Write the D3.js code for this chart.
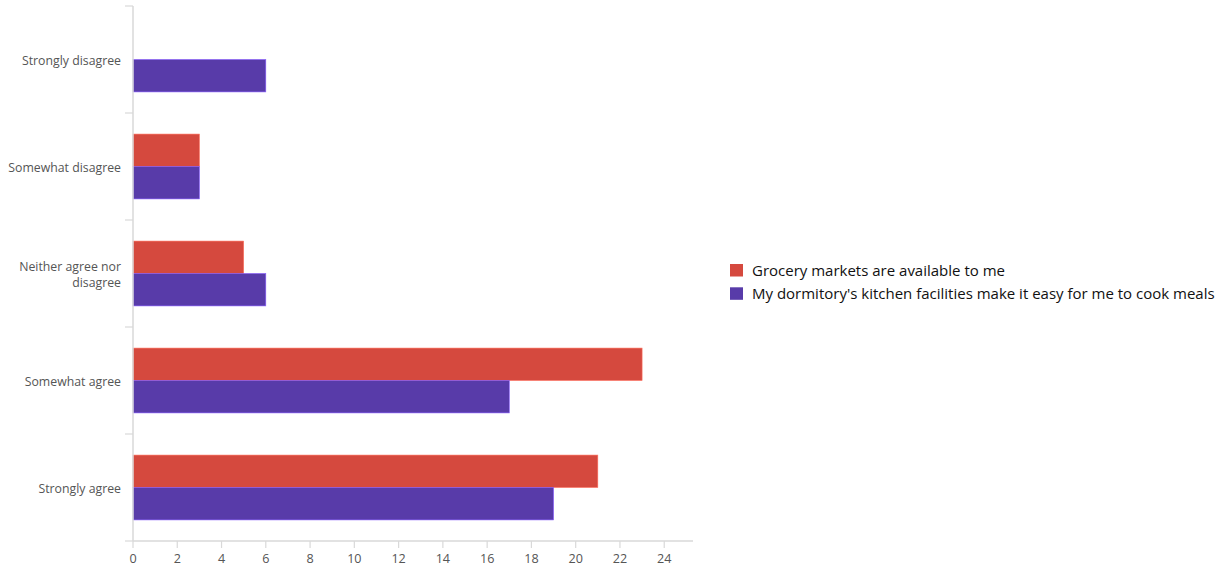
<!DOCTYPE html>
<html>
<head>
<meta charset="utf-8">
<script src="https://cdn.jsdelivr.net/npm/d3@7"></script>
<style>
  html, body { margin: 0; padding: 0; background: #fff; }
  svg { display: block; }
  text { font-family: "Open Sans", "Noto Sans", sans-serif; }
</style>
</head>
<body>
<svg id="chart" width="1227" height="569"></svg>
<script>
// Response categories, top to bottom
const categories = ["Strongly disagree", "Somewhat disagree", "Neither agree nor disagree", "Somewhat agree", "Strongly agree"];
const categoryLines = [["Strongly disagree"], ["Somewhat disagree"], ["Neither agree nor", "disagree"], ["Somewhat agree"], ["Strongly agree"]];

// Series
const seriesNames = ["Grocery markets are available to me", "My dormitory's kitchen facilities make it easy for me to cook meals"];
const groceryValues = [0, 3, 5, 23, 21];
const kitchenValues = [6, 3, 6, 17, 19];
const seriesColors = ["#d5493e", "#583ba9"];

const xTicks = [0, 2, 4, 6, 8, 10, 12, 14, 16, 18, 20, 22, 24];

const svg = d3.select("#chart");
const plot = { left: 133, right: 693, top: 6, bottom: 541 };

const x = d3.scaleLinear().domain([0, 25.3]).range([plot.left, plot.right]);
const y = d3.scaleBand().domain(categories).range([plot.top, plot.bottom]).paddingInner(0).paddingOuter(0);
const inner = d3.scaleBand().domain([0, 1]).range([0, y.bandwidth()]).paddingInner(0).paddingOuter(0.65);

const series = [groceryValues, kitchenValues];

// Bars
series.forEach((vals, si) => {
  svg.append("g")
    .selectAll("rect")
    .data(categories.map((c, i) => ({ c, v: vals[i] })).filter(d => d.v > 0))
    .join("rect")
    .attr("x", x(0))
    .attr("y", d => y(d.c) + inner(si))
    .attr("width", d => x(d.v) - x(0))
    .attr("height", inner.bandwidth())
    .attr("fill", seriesColors[si])
    .attr("stroke", d3.color(seriesColors[si]).brighter(1.2))
    .attr("stroke-width", 0.6);
});

// Y axis: line and separators between categories
const yAxis = svg.append("g");
yAxis.append("line")
  .attr("x1", plot.left).attr("x2", plot.left)
  .attr("y1", plot.top).attr("y2", plot.bottom)
  .attr("stroke", "#d9d9d9").attr("stroke-width", 1.5);
const boundaries = categories.map(c => y(c)).concat([plot.bottom]);
yAxis.selectAll("line.sep")
  .data(boundaries)
  .join("line")
  .attr("class", "sep")
  .attr("x1", plot.left - 8).attr("x2", plot.left)
  .attr("y1", d => d).attr("y2", d => d)
  .attr("stroke", "#d9d9d9").attr("stroke-width", 1.2);

// Category labels
categories.forEach((c, i) => {
  const lines = categoryLines[i];
  const cy = y(c) + y.bandwidth() / 2 + 1;
  const t = yAxis.append("text")
    .attr("text-anchor", "end")
    .attr("font-size", 12.3)
    .attr("fill", "#555");
  lines.forEach((ln, j) => {
    t.append("tspan")
      .attr("x", 121)
      .attr("y", cy + (j - (lines.length - 1) / 2) * 16)
      .attr("dy", "0.35em")
      .text(ln);
  });
});

// X axis
const xAxis = svg.append("g").attr("transform", `translate(0,${plot.bottom})`);
xAxis.append("line")
  .attr("x1", plot.left).attr("x2", plot.right)
  .attr("stroke", "#d9d9d9").attr("stroke-width", 1.5);
xAxis.selectAll("line.tick")
  .data(xTicks)
  .join("line")
  .attr("class", "tick")
  .attr("x1", d => x(d)).attr("x2", d => x(d))
  .attr("y1", 0).attr("y2", 7)
  .attr("stroke", "#d9d9d9").attr("stroke-width", 1.2);
xAxis.selectAll("text")
  .data(xTicks)
  .join("text")
  .attr("x", d => x(d))
  .attr("y", 22)
  .attr("text-anchor", "middle")
  .attr("font-size", 12.6)
  .attr("fill", "#555")
  .text(d => d);

// Legend
const legend = svg.append("g").attr("transform", "translate(730,264)");
seriesNames.forEach((name, i) => {
  const row = legend.append("g").attr("transform", `translate(0,${i * 23.3})`);
  row.append("rect").attr("width", 13).attr("height", 12.5).attr("fill", seriesColors[i]);
  row.append("text")
    .attr("x", 22).attr("y", 6.5)
    .attr("dy", "0.35em")
    .attr("font-size", 15)
    .attr("fill", "#111")
    .text(name);
});
</script>
</body>
</html>
